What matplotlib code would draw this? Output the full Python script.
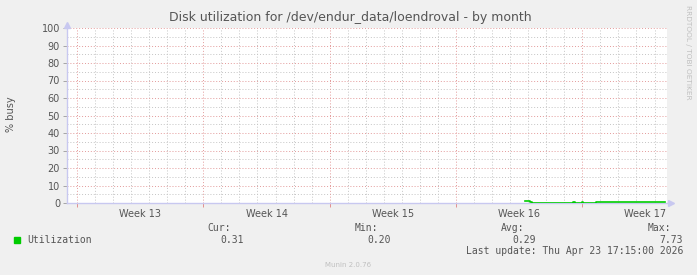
import matplotlib
matplotlib.use("Agg")
from matplotlib import pyplot as plt

# days since Monday of week 13, and % busy
days = [24.82, 24.99, 25.1, 25.2, 27.42, 27.48, 27.6, 27.92, 27.98, 28.05, 28.7, 28.75,
        29.65, 29.7, 29.8, 30.1, 30.15, 30.25, 30.4, 30.45, 30.55, 32.6]
busy = [1.0, 1.0, 0.6, 0.2, 0.2, 0.6, 0.2, 0.2, 0.6, 0.2, 0.2, 0.6,
        0.6, 0.3, 0.6, 0.6, 0.3, 0.6, 0.6, 0.3, 0.6, 0.6]

week_pos = [0, 7, 14, 21, 28]
week_labels = ["Week 13", "Week 14", "Week 15", "Week 16", "Week 17"]

legend_name = "Utilization"
cur, vmin, vavg, vmax = "0.31", "0.20", "0.29", "7.73"
last_update = "Last update: Thu Apr 23 17:15:00 2026"

W, H = 697, 275
bg = "#f0f0f0"
txt = "#555555"
mono = "DejaVu Sans Mono"

fig = plt.figure(figsize=(W / 100, H / 100), dpi=100, facecolor=bg)
ax = fig.add_axes([67 / W, 1 - 203 / H, 600 / W, 175 / H], facecolor="white")

x0, x1 = -0.554, 32.69
ax.set_xlim(x0, x1)
ax.set_ylim(0, 100)

# grid: minor gray, major red (dotted like rrdtool)
for d in range(0, 33):
    if d % 7 == 0:
        continue
    ax.axvline(d, color="#c4c4c4", lw=0.7, ls=(0, (1, 2)), zorder=1)
for y in range(5, 100, 10):
    ax.axhline(y, color="#c4c4c4", lw=0.7, ls=(0, (1, 2)), zorder=1)
for d in week_pos:
    ax.axvline(d, color="#e39a9a", lw=0.7, ls=(0, (1, 2)), zorder=2)
for y in range(10, 101, 10):
    ax.axhline(y, color="#e39a9a", lw=0.7, ls=(0, (1, 2)), zorder=2)

ax.plot(days, busy, color="#00cc00", lw=1.2, zorder=5, drawstyle="steps-post")

for s in ax.spines.values():
    s.set_visible(False)
ax.plot([x0, x0], [0, 102], color="#c8c8f0", lw=1, clip_on=False, zorder=3)
ax.plot([x0, x1 + 0.2], [0, 0], color="#c8c8f0", lw=1, clip_on=False, zorder=3)
ax.plot([x0], [102], marker="^", color="#c8c8f0", ms=5, clip_on=False)
ax.plot([x1 + 0.2], [0], marker=">", color="#c8c8f0", ms=5, clip_on=False)

ax.set_yticks(range(0, 101, 10))
ax.set_yticklabels([str(v) for v in range(0, 101, 10)])
ax.tick_params(axis="y", length=3, width=0.6, color="#999999", labelsize=7, labelcolor=txt, pad=2)
ax.set_xticks([p + 3.5 for p in week_pos])
ax.set_xticklabels(week_labels)
ax.tick_params(axis="x", length=0, labelsize=7, labelcolor=txt, pad=4)
ax.set_xticks(week_pos, minor=True)
ax.tick_params(axis="x", which="minor", length=3, width=0.6, color="#e08080")

fig.text(350 / W, 1 - 18 / H, "Disk utilization for /dev/endur_data/loendroval - by month",
         ha="center", va="center", fontsize=9, color=txt)
fig.text(11 / W, 1 - 114 / H, "% busy", rotation=90, ha="center", va="center",
         fontsize=7, color=txt)
fig.text(688 / W, 1 - 52 / H, "RRDTOOL / TOBI OETIKER", rotation=270, ha="center",
         va="center", fontsize=5.3, color="#c0c0c0")

def t(x, y, s, ha="right"):
    fig.text(x / W, 1 - y / H, s, ha=ha, va="center", fontsize=7, color=txt, family=mono)

fig.patches.append(plt.Rectangle((14 / W, 1 - 243 / H), 6 / W, 6 / H,
                                 transform=fig.transFigure, color="#00cc00"))
t(27, 240, legend_name, ha="left")
t(231, 228, "Cur:")
t(244, 240, cur)
t(378, 228, "Min:")
t(391, 240, vmin)
t(524, 228, "Avg:")
t(536, 240, vavg)
t(671, 228, "Max:")
t(683, 240, vmax)
t(683, 251, last_update)
fig.text(348 / W, 1 - 265 / H, "Munin 2.0.76", ha="center", va="center",
         fontsize=5, color="#c0c0c0")

fig.savefig("out.png", dpi=100, facecolor=bg)
